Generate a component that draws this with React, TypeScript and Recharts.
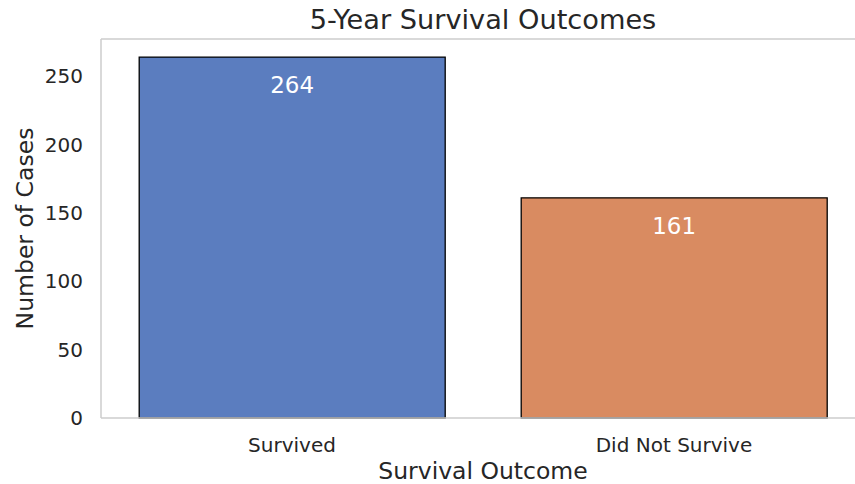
import React from "react";
import { BarChart, Bar, XAxis, YAxis, Cell, LabelList, Label } from "recharts";

const categories = ["Survived", "Did Not Survive"];
const counts = [264, 161];
const yTicks = [0, 50, 100, 150, 200, 250];
const barColors = ["#5b7dbf", "#d98b61"];

const data = categories.map((c, i) => ({ outcome: c, count: counts[i] }));

const FONT = "DejaVu Sans, sans-serif";
const TEXT = "#262626";

export default function App() {
  return (
    <div style={{ position: "absolute", left: 0, top: 0, width: 855, height: 484, overflow: "hidden", background: "#fff" }}>
      <BarChart
        width={880}
        height={484}
        data={data}
        margin={{ top: 39, right: 15, bottom: 36, left: 0 }}
        barCategoryGap="10%"
      >
        <text x={483} y={29} textAnchor="middle" fontFamily={FONT} fontSize={27.2} fill={TEXT}>
          5-Year Survival Outcomes
        </text>
        <XAxis
          dataKey="outcome"
          height={30}
          axisLine={{ stroke: "#cccccc", strokeWidth: 1.5 }}
          tickLine={false}
          tickSize={0}
          tickMargin={20}
          tick={{ fontFamily: FONT, fontSize: 20, fill: TEXT }}
          interval={0}
        >
          <Label
            content={({ viewBox }: any) => (
              <text x={viewBox.x + viewBox.width / 2} y={479} textAnchor="middle" fontFamily={FONT} fontSize={23.5} fill={TEXT}>
                Survival Outcome
              </text>
            )}
          />
        </XAxis>
        <YAxis
          width={101}
          domain={[0, 277.2]}
          ticks={yTicks}
          axisLine={{ stroke: "#cccccc", strokeWidth: 1.5 }}
          tickLine={false}
          tickSize={0}
          tickMargin={18}
          tick={{ fontFamily: FONT, fontSize: 20, fill: TEXT }}
        >
          <Label
            content={({ viewBox }: any) => {
              const cx = 33;
              const cy = viewBox.y + viewBox.height / 2;
              return (
                <text x={cx} y={cy} transform={`rotate(-90, ${cx}, ${cy})`} textAnchor="middle" fontFamily={FONT} fontSize={23.5} fill={TEXT}>
                  Number of Cases
                </text>
              );
            }}
          />
        </YAxis>
        <Bar dataKey="count" stroke="#000" strokeWidth={1.3} isAnimationActive={false}>
          {data.map((d, i) => (
            <Cell key={d.outcome} fill={barColors[i]} />
          ))}
          <LabelList dataKey="count" position="insideTop" offset={20} fill="#ffffff" fontFamily={FONT} fontSize={23} />
        </Bar>
        <line x1={101} y1={39} x2={880} y2={39} stroke="#cccccc" strokeWidth={1.5} />
      </BarChart>
    </div>
  );
}
